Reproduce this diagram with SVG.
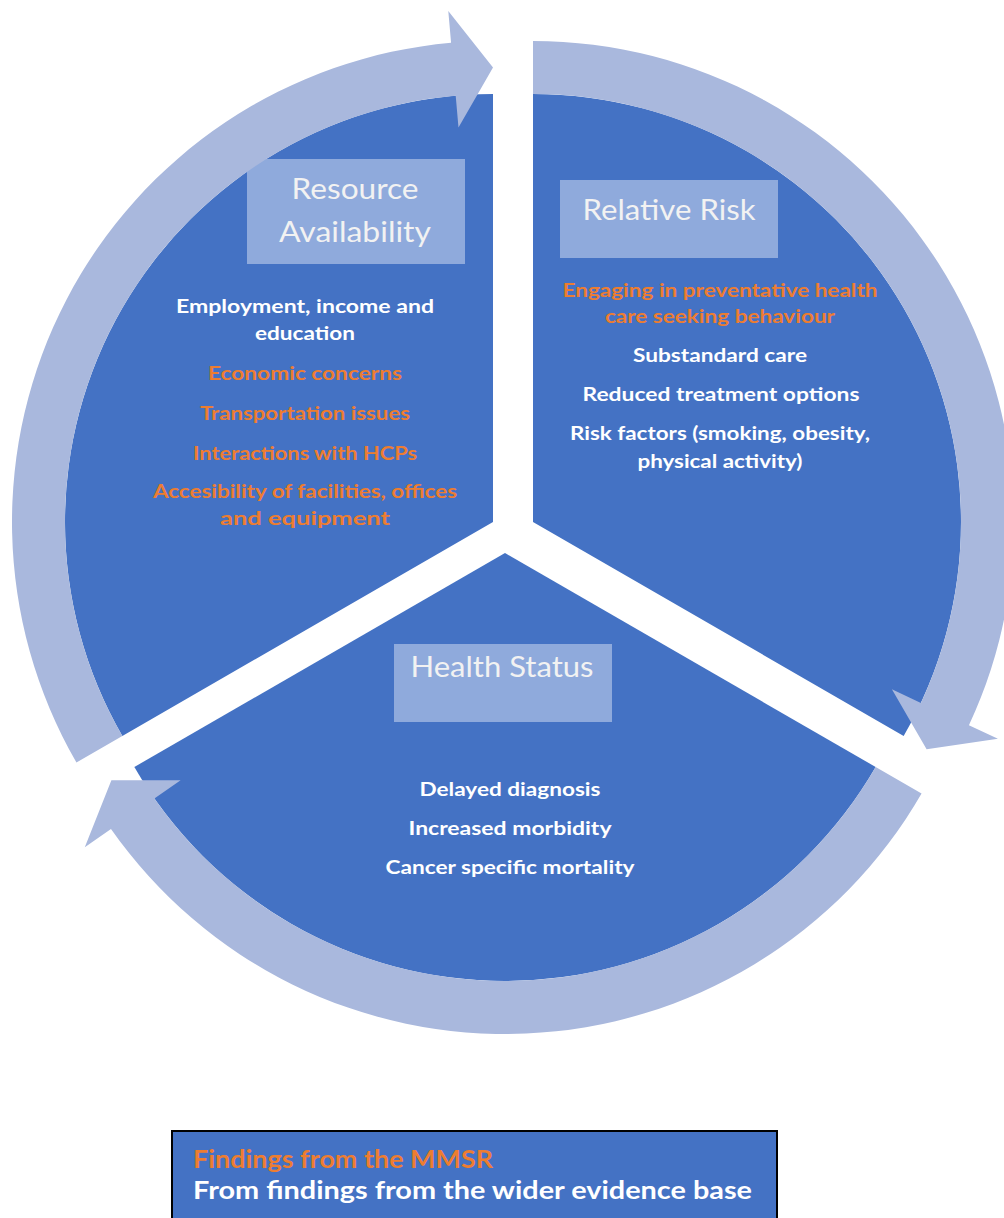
<svg xmlns="http://www.w3.org/2000/svg" width="1004" height="1218" viewBox="0 0 1004 1218">
<style>
.sec{fill:#4472C4}
.arr{fill:#A9B8DD}
.lbl{fill:#8FAADC}
.ht{font-family:Lato,"Liberation Sans",sans-serif;font-size:29px;fill:#F2F2F2;text-anchor:middle}
.bt{font-family:Lato,"Liberation Sans",sans-serif;font-size:19.5px;font-weight:700;text-anchor:middle}
.w{fill:#FFFFFF}
.o{fill:#ED7D31}
.lg{font-family:Lato,"Liberation Sans",sans-serif;font-size:25px;font-weight:700}
</style>
<rect width="1004" height="1218" fill="#FFFFFF"/>
<g id="resource-availability">
<path class="sec" d="M493,522 L493,94 A428,428 0 0 0 122.34,736 Z"/>
<rect class="lbl" x="247" y="159" width="218" height="105"/>
<text class="ht" x="355" y="199" textLength="127" lengthAdjust="spacingAndGlyphs">Resource</text>
<text class="ht" x="355" y="242" textLength="152" lengthAdjust="spacingAndGlyphs">Availability</text>
<text class="bt w" x="305" y="313" textLength="258" lengthAdjust="spacingAndGlyphs">Employment, income and</text>
<text class="bt w" x="305" y="340" textLength="100" lengthAdjust="spacingAndGlyphs">education</text>
<text class="bt o" x="305" y="380" textLength="194" lengthAdjust="spacingAndGlyphs">Economic concerns</text>
<text class="bt o" x="305" y="420" textLength="210" lengthAdjust="spacingAndGlyphs">Transportation issues</text>
<text class="bt o" x="305" y="460" textLength="224" lengthAdjust="spacingAndGlyphs">Interactions with HCPs</text>
<text class="bt o" x="305" y="498" textLength="304" lengthAdjust="spacingAndGlyphs">Accesibility of facilities, offices</text>
<text class="bt o" x="305" y="525" textLength="170" lengthAdjust="spacingAndGlyphs">and equipment</text>
</g>
<g id="relative-risk">
<path class="sec" d="M533,522 L533,94 A428,428 0 0 1 903.66,736 Z"/>
<rect class="lbl" x="560" y="180" width="218" height="78"/>
<text class="ht" x="669" y="220" textLength="173" lengthAdjust="spacingAndGlyphs">Relative Risk</text>
<text class="bt o" x="720" y="297" textLength="315" lengthAdjust="spacingAndGlyphs">Engaging in preventative health</text>
<text class="bt o" x="720" y="323" textLength="230" lengthAdjust="spacingAndGlyphs">care seeking behaviour</text>
<text class="bt w" x="720" y="362" textLength="174" lengthAdjust="spacingAndGlyphs">Substandard care</text>
<text class="bt w" x="721" y="401" textLength="277" lengthAdjust="spacingAndGlyphs">Reduced treatment options</text>
<text class="bt w" x="720" y="440" textLength="300" lengthAdjust="spacingAndGlyphs">Risk factors (smoking, obesity,</text>
<text class="bt w" x="720" y="468" textLength="165" lengthAdjust="spacingAndGlyphs">physical activity)</text>
</g>
<g id="health-status">
<path class="sec" d="M505,553 L875.66,767 A428,428 0 0 1 134.34,767 Z"/>
<rect class="lbl" x="394" y="644" width="218" height="78"/>
<text class="ht" x="502" y="677" textLength="183" lengthAdjust="spacingAndGlyphs">Health Status</text>
<text class="bt w" x="510" y="796" textLength="181" lengthAdjust="spacingAndGlyphs">Delayed diagnosis</text>
<text class="bt w" x="510" y="835" textLength="203" lengthAdjust="spacingAndGlyphs">Increased morbidity</text>
<text class="bt w" x="510" y="874" textLength="249" lengthAdjust="spacingAndGlyphs">Cancer specific mortality</text>
</g>
<g id="connectors">
<path class="arr" d="M122.34,736 L76.44,762.5 A481,481 0 0 1 451.08,42.83 L448.29,10.95 L493,67.5 L458.49,127.51 L455.70,95.63 A428,428 0 0 0 122.34,736 Z"/>
<path class="arr" d="M533,94 L533,41 A481,481 0 0 1 968.93,725.28 L997.94,738.80 L926.61,749.25 L891.90,689.36 L920.90,702.88 A428,428 0 0 0 533,94 Z"/>
<path class="arr" d="M875.66,767 L921.56,793.5 A481,481 0 0 1 110.99,828.89 L84.78,847.25 L111.39,780.25 L180.62,780.14 L154.40,798.49 A428,428 0 0 0 875.66,767 Z"/>
</g>
<g id="legend">
<rect x="172" y="1131" width="605" height="95" fill="#4472C4" stroke="#000000" stroke-width="2"/>
<text class="lg o" x="193" y="1168" textLength="300" lengthAdjust="spacingAndGlyphs">Findings from the MMSR</text>
<text class="lg w" x="193" y="1199" textLength="559" lengthAdjust="spacingAndGlyphs">From findings from the wider evidence base</text>
</g>
</svg>
